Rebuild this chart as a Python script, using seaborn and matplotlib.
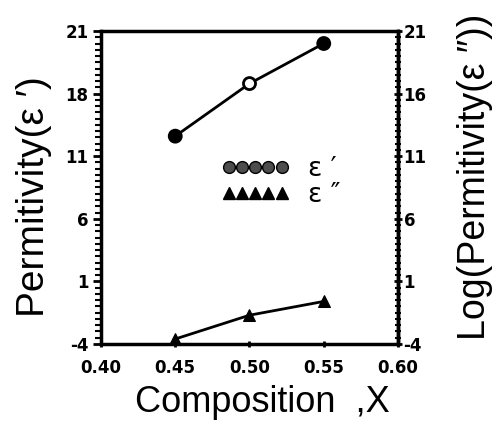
import numpy as np
import seaborn as sns
import matplotlib.pyplot as plt
from matplotlib.lines import Line2D
from matplotlib.ticker import MultipleLocator

# data
composition = [0.45, 0.50, 0.55]
eps_real = [12.6, 16.8, 20.0]
eps_imag = [-3.6, -1.7, -0.6]
circle_faces = ['black', 'white', 'black']

y_ticks = [21, 16, 11, 6, 1, -4]
left_labels = ['21', '18', '11', '6', '1', '-4']
right_labels = ['21', '16', '11', '6', '1', '-4']
x_ticks = [0.40, 0.45, 0.50, 0.55, 0.60]
x_labels = ['0.40', '0.45', '0.50', '0.55', '0.60']

sns.set_style('ticks')
plt.rcParams['font.family'] = ['Liberation Sans', 'DejaVu Sans']
plt.rcParams['text.color'] = 'black'
plt.rcParams['axes.labelcolor'] = 'black'
plt.rcParams['xtick.color'] = 'black'
plt.rcParams['ytick.color'] = 'black'
plt.rcParams['axes.edgecolor'] = 'black'

fig = plt.figure(figsize=(4.99, 4.21), dpi=100)
ax = fig.add_axes([0.2024, 0.1829, 0.5952, 0.7435])

sns.lineplot(x=composition, y=eps_real, color='black', linewidth=2, ax=ax)
ax.scatter(composition, eps_real, s=75, facecolors=circle_faces,
           edgecolors='black', linewidths=2, zorder=3)
sns.lineplot(x=composition, y=eps_imag, color='black', linewidth=2,
             marker='^', markersize=8, markeredgecolor='black', ax=ax)

tick_font = dict(fontweight='bold', fontsize=12, family='DejaVu Sans')
ax.set_xlim(0.40, 0.60)
ax.set_ylim(-4, 21)
ax.set_xticks(x_ticks)
ax.set_xticklabels(x_labels, **tick_font)
ax.set_yticks(y_ticks)
ax.set_yticklabels(left_labels, **tick_font)
ax.yaxis.set_minor_locator(MultipleLocator(0.5))
ax.tick_params(axis='y', which='major', length=6, width=2, direction='out', pad=3)
ax.tick_params(axis='y', which='minor', length=4, width=1.5, direction='out')
ax.tick_params(axis='x', length=5, width=2, direction='inout', pad=8)
for side in ax.spines.values():
    side.set_linewidth(2.5)

ax.set_xlabel('Composition  ,X', fontsize=26)
ax.xaxis.set_label_coords(0.542, -0.132)
ax.set_ylabel("Permitivity(\u03b5 \u2032)", fontsize=28)
ax.yaxis.set_label_coords(-0.165, 0.47)

ax2 = ax.twinx()
ax2.set_ylim(-4, 21)
ax2.set_yticks(y_ticks)
ax2.set_yticklabels(right_labels, **tick_font)
ax2.yaxis.set_minor_locator(MultipleLocator(0.5))
ax2.tick_params(axis='y', which='major', length=6, width=2, direction='inout', pad=1)
ax2.tick_params(axis='y', which='minor', length=4, width=1.5, direction='inout')
ax2.spines['right'].set_linewidth(2.5)
ax2.set_ylabel("Log(Permitivity(\u03b5 \u2033))", fontsize=27)
ax2.yaxis.set_label_coords(1.2, 0.535)

handles = [
    Line2D([], [], linestyle='none', marker='o', color='black', markersize=8.5,
           markerfacecolor='0.3'),
    Line2D([], [], linestyle='none', marker='^', color='black', markersize=8.5),
]
ax.legend(handles, ['\u03b5 \u2032', '\u03b5 \u2033'], numpoints=5, handlelength=2.6,
          handletextpad=0.68, frameon=False, labelspacing=0,
          borderpad=0, borderaxespad=0, loc='upper left',
          bbox_to_anchor=(0.404, 0.6), prop={'family': 'DejaVu Sans', 'size': 19})

fig.savefig('out.png', dpi=100)
